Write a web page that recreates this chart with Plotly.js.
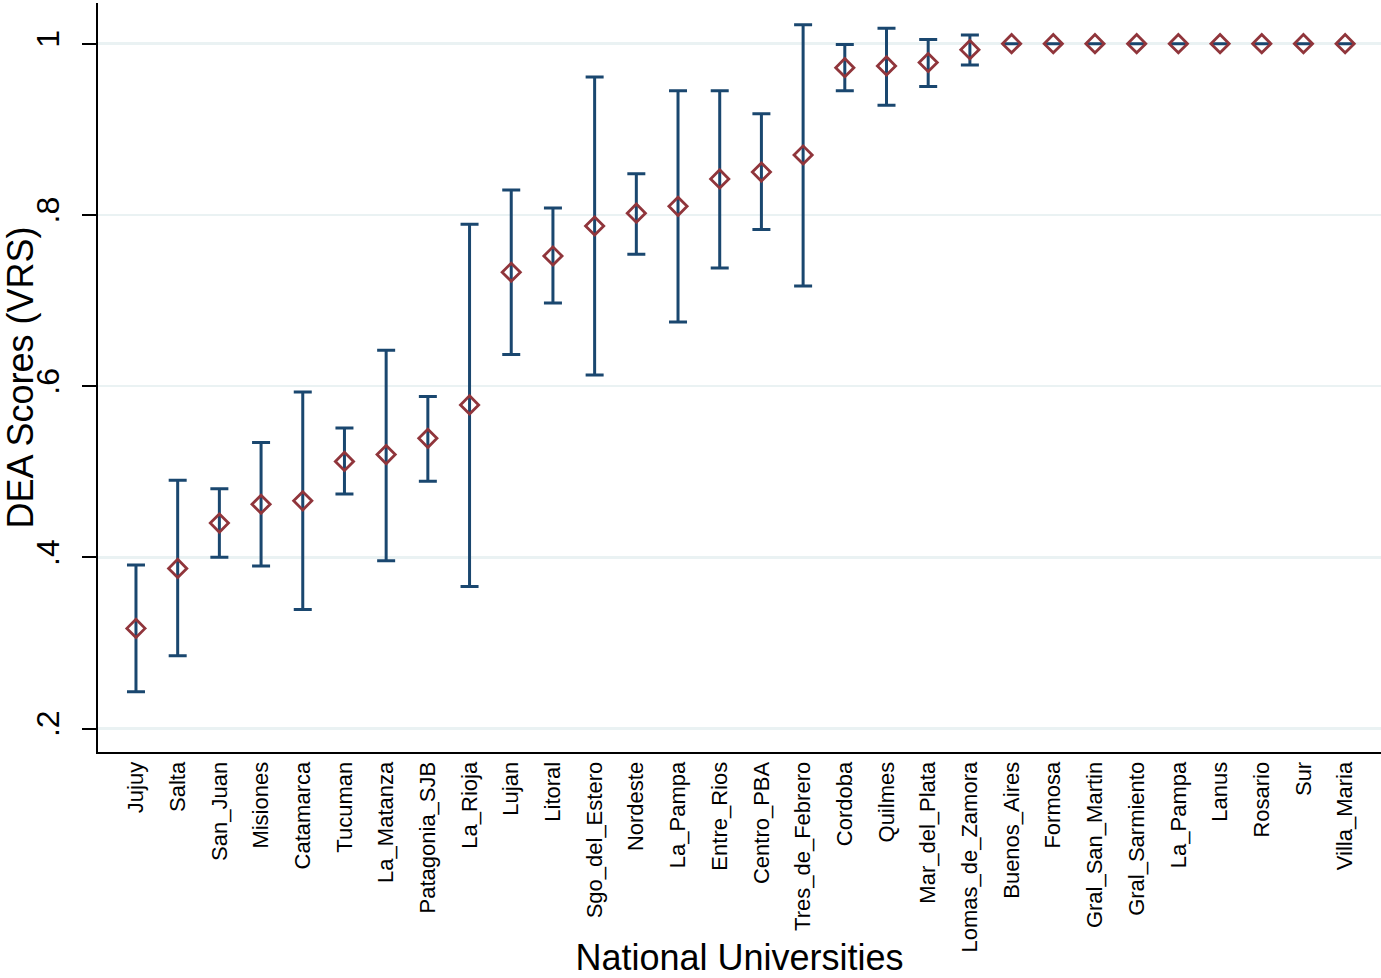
<!DOCTYPE html>
<html>
<head>
<meta charset="utf-8">
<script src="https://cdn.plot.ly/plotly-3.0.1.min.js"></script>
<style>
  html, body { margin: 0; padding: 0; background: #ffffff; }
  #chart { width: 1381px; height: 978px; }
</style>
</head>
<body>
<div id="chart"></div>
<script>
// Universities, ordered as in the reference (note La_Pampa appears twice)
const universities = ['Jujuy','Salta','San_Juan','Misiones','Catamarca','Tucuman','La_Matanza','Patagonia_SJB','La_Rioja','Lujan','Litoral','Sgo_del_Estero','Nordeste','La_Pampa','Entre_Rios','Centro_PBA','Tres_de_Febrero','Cordoba','Quilmes','Mar_del_Plata','Lomas_de_Zamora','Buenos_Aires','Formosa','Gral_San_Martin','Gral_Sarmiento','La_Pampa','Lanus','Rosario','Sur','Villa_Maria'];

// DEA scores (VRS), point estimates
const scores = [0.317,0.387,0.440,0.462,0.466,0.512,0.520,0.539,0.578,0.733,0.752,0.787,0.802,0.810,0.842,0.850,0.870,0.972,0.974,0.978,0.993,1,1,1,1,1,1,1,1,1];

// Upper and lower bounds of the intervals
const upperBound = [0.391,0.490,0.480,0.534,0.593,0.551,0.642,0.588,0.789,0.829,0.808,0.961,0.848,0.945,0.945,0.918,1.022,0.999,1.018,1.005,1.010,1,1,1,1,1,1,1,1,1];
const lowerBound = [0.243,0.285,0.400,0.390,0.339,0.474,0.396,0.489,0.366,0.637,0.697,0.613,0.754,0.675,0.738,0.783,0.717,0.945,0.928,0.950,0.975,1,1,1,1,1,1,1,1,1];

// Y tick labels
const yTickVals = [0.2, 0.4, 0.6, 0.8, 1];
const yTickText = ['.2', '.4', '.6', '.8', '1'];

const positions = universities.map((_, i) => i);
const errPlus = scores.map((s, i) => upperBound[i] - s);
const errMinus = scores.map((s, i) => s - lowerBound[i]);

const FONT = '"Liberation Sans", Arial, Helvetica, sans-serif';

const trace = {
  type: 'scatter',
  mode: 'markers',
  x: positions,
  y: scores,
  marker: {
    symbol: 'diamond-open',
    size: 14,
    color: '#90353b',
    line: { color: '#90353b', width: 2.8 }
  },
  error_y: {
    type: 'data',
    symmetric: false,
    array: errPlus,
    arrayminus: errMinus,
    color: '#1a476f',
    thickness: 3,
    width: 9
  },
  hoverinfo: 'x+y',
  showlegend: false
};

const layout = {
  width: 1381,
  height: 978,
  margin: { l: 98, r: 0, t: 3, b: 226 },
  paper_bgcolor: '#ffffff',
  plot_bgcolor: '#ffffff',
  font: { family: FONT, color: '#000000' },
  showlegend: false,
  xaxis: {
    range: [-0.911, 29.86],
    tickmode: 'array',
    tickvals: positions,
    ticktext: universities,
    tickangle: -90,
    tickfont: { family: FONT, size: 22, color: '#000000' },
    ticks: '',
    ticklabelstandoff: -1,
    showgrid: false,
    zeroline: false,
    showline: true,
    linecolor: '#000000',
    linewidth: 2,
    title: {
      text: 'National Universities',
      font: { family: FONT, size: 36, color: '#000000' },
      standoff: 8
    }
  },
  yaxis: {
    range: [0.1726, 1.0475],
    tickmode: 'array',
    tickvals: yTickVals,
    ticktext: yTickText,
    tickangle: -90,
    tickfont: { family: FONT, size: 32, color: '#000000' },
    ticks: 'outside',
    ticklen: 14,
    tickwidth: 2,
    tickcolor: '#000000',
    ticklabelstandoff: 10,
    showgrid: true,
    gridcolor: '#eaf2f3',
    gridwidth: 2.5,
    zeroline: false,
    showline: true,
    linecolor: '#000000',
    linewidth: 2,
    title: {
      text: 'DEA Scores (VRS)',
      font: { family: FONT, size: 36, color: '#000000' },
      standoff: 8
    }
  }
};

Plotly.newPlot('chart', [trace], layout, { displayModeBar: false, staticPlot: true });
</script>
</body>
</html>
